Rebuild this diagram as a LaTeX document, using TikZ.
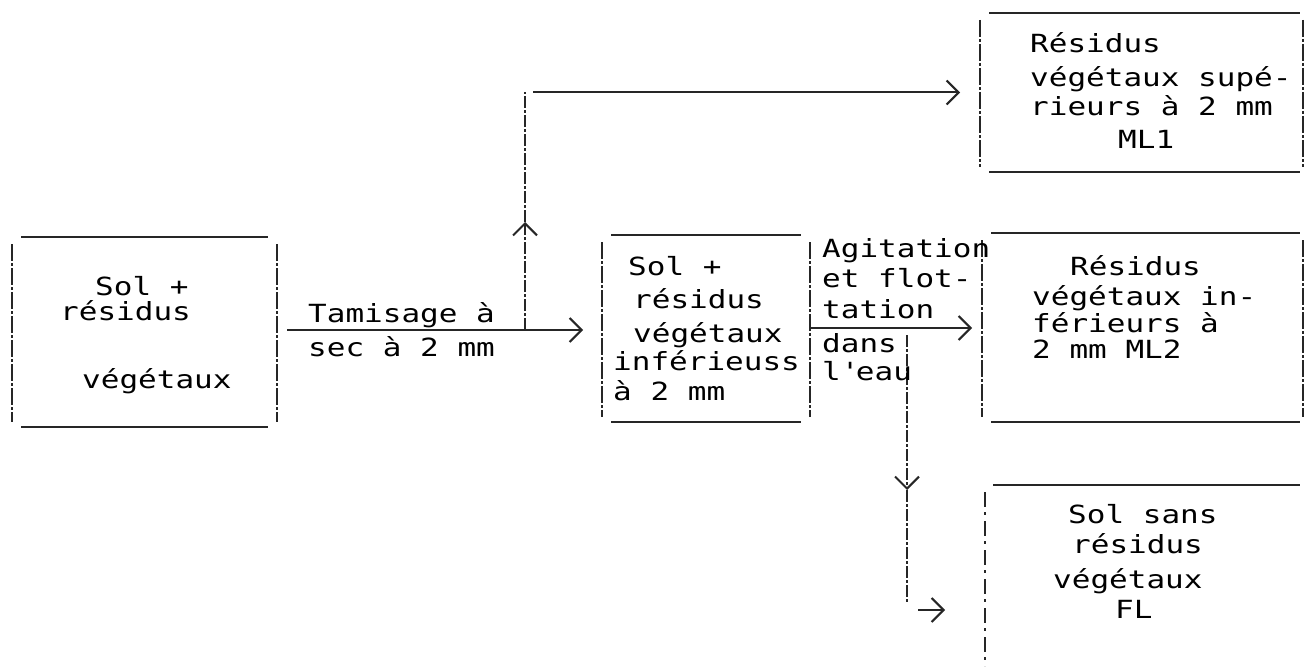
\documentclass[tikz,border=0pt]{standalone}
\usepackage{fontspec}
\setmainfont{DejaVu Sans Mono}[FakeStretch=1.24]
\usetikzlibrary{arrows.meta}
\begin{document}
\begin{tikzpicture}[x=1pt,y=-1pt,
  txt/.style={anchor=base west, inner sep=0pt, font=\fontsize{25}{30}\selectfont},
  boxn/.style={inner sep=0pt, outer sep=0pt, draw=none},
  hline/.style={line width=2.2pt, black!85},
  vline/.style={line width=2.2pt, black!85, dash pattern=on 17pt off 2pt on 3pt off 2pt},
  bangline/.style={line width=2.2pt, black!85, dash pattern=on 15pt off 5pt on 3pt off 6pt},
  conn/.style={line width=2pt, black!85},
  vconn/.style={line width=2pt, black!85, dash pattern=on 12pt off 2pt on 3pt off 2pt},
  tip/.style={-{Straight Barb[length=12pt,width=24pt,line width=2pt]}}
]
\fill[white] (0,0) rectangle (1305,666);
\path[use as bounding box] (0,0) rectangle (1305,666);

% boxes
\node[boxn, minimum width=265pt, minimum height=190pt] (b1) at (144.5,332) {};
\node[boxn, minimum width=208pt, minimum height=187pt] (b2) at (706,328.5) {};
\node[boxn, minimum width=323pt, minimum height=159pt] (ml1) at (1141.5,92.5) {};
\node[boxn, minimum width=321pt, minimum height=189pt] (ml2) at (1142.5,327.5) {};
\node[boxn, minimum width=318pt, minimum height=215pt] (fl) at (1144,592.5) {};

\foreach \n/\r in {b1/9pt,b2/9pt,ml1/3pt,ml2/3pt}{
  \draw[hline] ([xshift=9pt]\n.north west) -- ([xshift=-\r]\n.north east);
  \draw[hline] ([xshift=9pt]\n.south west) -- ([xshift=-\r]\n.south east);
  \draw[vline] ([yshift=-7pt]\n.north west) -- ([yshift=5pt]\n.south west);
  \draw[vline] ([yshift=-7pt]\n.north east) -- ([yshift=5pt]\n.south east);
}
\draw[hline] ([xshift=8pt]fl.north west) -- ([xshift=-3pt]fl.north east);
\draw[bangline] ([yshift=-7pt]fl.north west) -- (fl.north west |- 0,666);

% connectors
\coordinate (j1) at (525,330);
\coordinate (up1) at (525,222);
\draw[conn,tip,shorten <=10pt,shorten >=19pt] (b1.east |- j1) -- (b2.west |- j1);
\draw[vconn,tip] (j1) -- (up1);
\draw[vconn] (up1) -- (up1 |- ml1.west);
\draw[conn,tip,shorten <=8pt,shorten >=20pt] (up1 |- ml1.west) -- (ml1.west);

\coordinate (j2) at (907,328);
\coordinate (dn1) at (907,490);
\coordinate (c3) at (907,603);
\coordinate (a3) at (918,610);
\draw[conn,tip,shorten >=10pt] (b2.east |- j2) -- (ml2.west |- j2);
\draw[vconn,tip,shorten <=7pt] (j2) -- (dn1);
\draw[vconn] (dn1) -- (c3);
\draw[conn,tip,shorten >=40pt] (a3) -- (a3 -| fl.west);

% texts box 1
\node[txt] (t1a) at (95,295) {Sol +};
\node[txt] (t1b) at (60,320) {résidus};
\node[txt] (t1c) at (82,388) {végétaux};
% arrow label 1
\node[txt] (l1a) at (308,322) {Tamisage à};
\node[txt] (l1b) at (308,356) {sec à 2 mm};
% box 2
\node[txt] (t2a) at (628,275) {Sol +};
\node[txt] (t2b) at (633,308) {résidus};
\node[txt] (t2c) at (633,342) {végétaux};
\node[txt] (t2d) at (613,370) {inférieuss};
\node[txt] (t2e) at (613,400) {à 2 mm};
% arrow label 2
\node[txt] (l2a) at (822,257) {Agitation};
\node[txt] (l2b) at (822,287) {et flot-};
\node[txt] (l2c) at (822,318) {tation};
\node[txt] (l2d) at (822,352) {dans};
\node[txt] (l2e) at (822,380) {l\textquotesingle eau};
% ML1
\node[txt] (m1a) at (1030,53) {Résidus};
\node[txt] (m1b) at (1030,87) {végétaux supé-};
\node[txt] (m1c) at (1030,115) {rieurs à 2 mm};
\node[txt] (m1d) at (1118,148) {ML1};
% ML2
\node[txt] (m2a) at (1070,275) {Résidus};
\node[txt] (m2b) at (1032,305) {végétaux in-};
\node[txt] (m2c) at (1032,332) {férieurs à};
\node[txt] (m2d) at (1032,358) {2 mm ML2};
% FL
\node[txt] (f1a) at (1068,523) {Sol sans};
\node[txt] (f1b) at (1072,553) {résidus};
\node[txt] (f1c) at (1053,588) {végétaux};
\node[txt] (f1d) at (1115,618) {FL};
\end{tikzpicture}
\end{document}
